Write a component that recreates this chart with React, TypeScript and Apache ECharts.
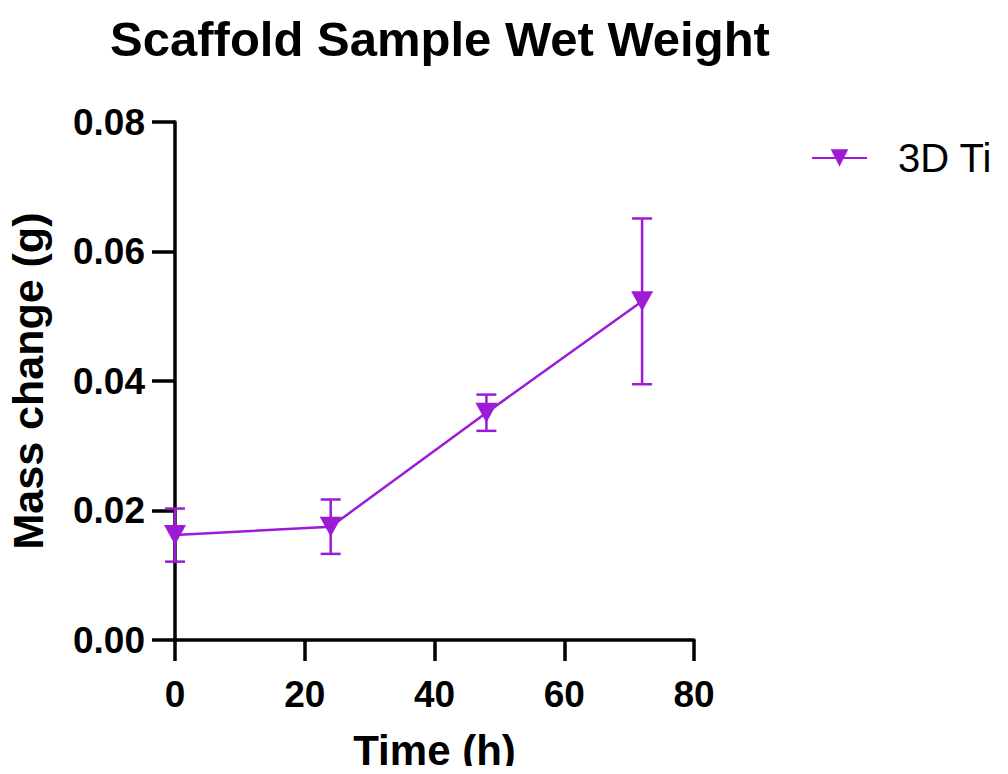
import React, { useEffect, useRef } from "react";
import * as echarts from "echarts";

const timeHours = [0, 24, 48, 72];
const massMean = [0.0162, 0.0175, 0.0351, 0.0523];
const massSD = [0.0041, 0.0042, 0.0028, 0.0128];
const xTicks = [0, 20, 40, 60, 80];
const yTicks = [0, 0.02, 0.04, 0.06, 0.08];
const seriesName = "3D Ti";

const PURPLE = "#9d1ad6";
const FONT = "'Liberation Sans', Arial, Helvetica, sans-serif";

export default function App() {
  const ref = useRef<HTMLDivElement>(null);
  useEffect(() => {
    if (!ref.current) return;
    const chart = echarts.init(ref.current, undefined, { renderer: "svg" });
    const lineData = timeHours.map((t, i) => [t, massMean[i]]);
    const errData = timeHours.map((t, i) => [t, massMean[i] - massSD[i], massMean[i] + massSD[i]]);
    chart.setOption({
      animation: false,
      backgroundColor: "#ffffff",
      title: {
        text: "Scaffold Sample Wet Weight",
        left: 435,
        textAlign: "center",
        top: 9,
        textStyle: { fontFamily: FONT, fontWeight: "bold", fontSize: 49, color: "#000" },
      },
      legend: {
        left: 806,
        top: 133,
        itemWidth: 55,
        itemHeight: 22,
        data: [seriesName],
        textStyle: { fontFamily: FONT, fontSize: 40, color: "#000", padding: [0, 0, 0, 26] },
      },
      grid: { left: 175, right: 314, top: 122, bottom: 134, containLabel: false, outerBoundsMode: "none" },
      xAxis: {
        type: "value",
        min: xTicks[0],
        max: xTicks[xTicks.length - 1],
        interval: 20,
        name: "Time (h)",
        nameLocation: "middle",
        nameGap: 89,
        nameTextStyle: { fontFamily: FONT, fontWeight: "bold", fontSize: 42, color: "#000" },
        axisLine: { show: true, onZero: false, lineStyle: { color: "#000", width: 3.5 } },
        axisTick: { show: true, length: 21, lineStyle: { color: "#000", width: 3.5 } },
        axisLabel: { margin: 36, fontFamily: FONT, fontWeight: "bold", fontSize: 37, color: "#000" },
        splitLine: { show: false },
      },
      yAxis: {
        type: "value",
        min: yTicks[0],
        max: yTicks[yTicks.length - 1],
        interval: 0.02,
        name: "Mass change (g)",
        nameLocation: "middle",
        nameGap: 126,
        nameTextStyle: { fontFamily: FONT, fontWeight: "bold", fontSize: 43, color: "#000" },
        axisLine: { show: true, lineStyle: { color: "#000", width: 3.5 } },
        axisTick: { show: true, length: 23, lineStyle: { color: "#000", width: 3.5 } },
        axisLabel: {
          margin: 30,
          fontFamily: FONT,
          fontWeight: "bold",
          fontSize: 37,
          color: "#000",
          formatter: (v: number) => v.toFixed(2),
        },
        splitLine: { show: false },
      },
      series: [
        {
          type: "custom",
          name: "err",
          data: errData,
          z: 2,
          renderItem: (params: any, api: any) => {
            const x = api.value(0);
            const lo = api.coord([x, api.value(1)]);
            const hi = api.coord([x, api.value(2)]);
            const half = 10;
            const style = { stroke: PURPLE, lineWidth: 2.5 };
            return {
              type: "group",
              children: [
                { type: "line", shape: { x1: lo[0], y1: lo[1], x2: hi[0], y2: hi[1] }, style },
                { type: "line", shape: { x1: lo[0] - half, y1: lo[1], x2: lo[0] + half, y2: lo[1] }, style },
                { type: "line", shape: { x1: hi[0] - half, y1: hi[1], x2: hi[0] + half, y2: hi[1] }, style },
              ],
            };
          },
          silent: true,
        },
        {
          type: "line",
          name: seriesName,
          data: lineData,
          z: 3,
          symbol: "triangle",
          symbolRotate: 180,
          symbolSize: [22, 20],
          showAllSymbol: true,
          lineStyle: { color: PURPLE, width: 2.5 },
          itemStyle: { color: PURPLE, borderWidth: 0 },
        },
      ],
    });
    return () => chart.dispose();
  }, []);
  return <div ref={ref} style={{ width: 1008, height: 774, margin: -8 }} />;
}
